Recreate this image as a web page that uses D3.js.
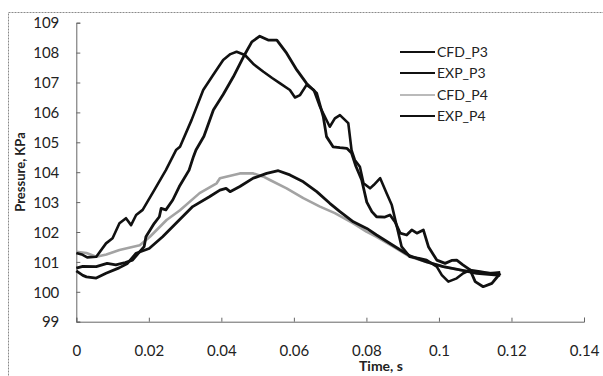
<!DOCTYPE html>
<html>
<head>
<meta charset="utf-8">
<script src="https://cdn.jsdelivr.net/npm/d3@7"></script>
<style>
  body { margin: 0; background: #fff; }
  svg { font-family: Lato, "Open Sans", sans-serif; }
</style>
</head>
<body>
<div id="chart"></div>
<script>
// time (s) and pressure (KPa)
const cfd_p3_t = [0, 0.0015, 0.003, 0.0055, 0.0082, 0.010, 0.0119, 0.0137, 0.0151, 0.0165, 0.0183, 0.0215, 0.0247, 0.0275, 0.0286, 0.0318, 0.035, 0.038, 0.0405, 0.0425, 0.0442, 0.0465, 0.049, 0.0516, 0.054, 0.0562, 0.0589, 0.0603, 0.0617, 0.0635, 0.0655, 0.0672, 0.0699, 0.0713, 0.0727, 0.075, 0.0759, 0.0768, 0.0782, 0.0792, 0.081, 0.082, 0.0838, 0.0856, 0.087, 0.0884, 0.0897, 0.092, 0.0945, 0.0966, 0.0994, 0.1008, 0.1026, 0.1049, 0.1067, 0.1086, 0.1113, 0.1141, 0.1169];
const cfd_p3_p = [101.3, 101.25, 101.15, 101.17, 101.62, 101.79, 102.29, 102.46, 102.23, 102.57, 102.74, 103.4, 104.07, 104.74, 104.85, 105.75, 106.75, 107.3, 107.75, 107.95, 108.03, 107.92, 107.6, 107.36, 107.15, 106.97, 106.75, 106.5, 106.58, 106.92, 106.75, 106.19, 105.52, 105.8, 105.91, 105.64, 104.74, 104.41, 104.18, 103.63, 103.46, 103.57, 103.8, 103.29, 102.9, 102.18, 101.51, 101.17, 101.12, 101.06, 100.84, 100.56, 100.34, 100.45, 100.62, 100.73, 100.68, 100.62, 100.65];

const exp_p3_t = [0, 0.0018, 0.0055, 0.0085, 0.0109, 0.0135, 0.0155, 0.0172, 0.0187, 0.0192, 0.0215, 0.0229, 0.0234, 0.0247, 0.0266, 0.0284, 0.0311, 0.0323, 0.033, 0.0352, 0.0378, 0.0405, 0.0433, 0.0461, 0.0484, 0.0506, 0.0529, 0.0553, 0.058, 0.0608, 0.0635, 0.0663, 0.0681, 0.069, 0.0708, 0.0727, 0.0746, 0.0759, 0.0771, 0.0787, 0.0801, 0.0815, 0.0828, 0.0851, 0.0865, 0.0879, 0.0893, 0.0911, 0.0925, 0.0939, 0.0957, 0.0971, 0.0994, 0.1017, 0.1035, 0.1049, 0.1066, 0.1086, 0.11, 0.1122, 0.1146, 0.1169];
const exp_p3_p = [100.79, 100.85, 100.84, 100.95, 100.9, 100.98, 101.06, 101.3, 101.51, 101.84, 102.29, 102.51, 102.79, 102.74, 103.07, 103.52, 104.07, 104.52, 104.74, 105.2, 106.08, 106.6, 107.19, 107.86, 108.36, 108.55, 108.42, 108.42, 107.98, 107.42, 106.97, 106.64, 105.86, 105.19, 104.85, 104.82, 104.8, 104.64, 104.2, 103.74, 103.0, 102.68, 102.51, 102.5, 102.57, 102.34, 101.96, 101.9, 102.07, 101.96, 102.07, 101.51, 101.06, 100.95, 101.05, 101.06, 100.9, 100.73, 100.34, 100.17, 100.28, 100.62];

const cfd_p4_t = [0, 0.0028, 0.0055, 0.0083, 0.0119, 0.0175, 0.0203, 0.0249, 0.0286, 0.034, 0.0387, 0.0396, 0.0451, 0.0488, 0.0516, 0.0534, 0.058, 0.0626, 0.0672, 0.0713, 0.0764, 0.08, 0.0828, 0.0874, 0.092, 0.0966, 0.1012, 0.1058, 0.1104, 0.1169];
const cfd_p4_p = [101.34, 101.3, 101.17, 101.25, 101.4, 101.56, 101.84, 102.4, 102.73, 103.3, 103.63, 103.8, 103.96, 103.96, 103.85, 103.74, 103.46, 103.13, 102.85, 102.63, 102.29, 102.01, 101.84, 101.51, 101.17, 101.0, 100.84, 100.73, 100.67, 100.6];

const exp_p4_t = [0, 0.0018, 0.0028, 0.0055, 0.0082, 0.0118, 0.0141, 0.0165, 0.0201, 0.0238, 0.0275, 0.0321, 0.0367, 0.0396, 0.0413, 0.0424, 0.0451, 0.0488, 0.0525, 0.0557, 0.0589, 0.0626, 0.0663, 0.0699, 0.0727, 0.0764, 0.0801, 0.0828, 0.0874, 0.092, 0.0966, 0.1012, 0.1058, 0.1104, 0.1169];
const exp_p4_p = [100.7, 100.55, 100.5, 100.46, 100.62, 100.8, 100.95, 101.29, 101.45, 101.84, 102.29, 102.85, 103.18, 103.4, 103.46, 103.35, 103.52, 103.8, 103.96, 104.05, 103.91, 103.68, 103.35, 102.96, 102.68, 102.34, 102.12, 101.9, 101.55, 101.2, 101.0, 100.84, 100.73, 100.62, 100.55];

const series_names = ["CFD_P3", "EXP_P3", "CFD_P4", "EXP_P4"];
const x_ticks = [0, 0.02, 0.04, 0.06, 0.08, 0.1, 0.12, 0.14];
const y_ticks = [99, 100, 101, 102, 103, 104, 105, 106, 107, 108, 109];

const width = 603, height = 376;

const series = [
  { name: series_names[0], t: cfd_p3_t, p: cfd_p3_p, color: "#111", w: 2.6 },
  { name: series_names[1], t: exp_p3_t, p: exp_p3_p, color: "#111", w: 2.8 },
  { name: series_names[2], t: cfd_p4_t, p: cfd_p4_p, color: "#a3a3a3", w: 2.6 },
  { name: series_names[3], t: exp_p4_t, p: exp_p4_p, color: "#111", w: 2.8 }
];

const x_scale = d3.scaleLinear().domain([0, 0.14]).range([76.3, 584]);
const y_scale = d3.scaleLinear().domain([99, 109]).range([321.7, 22.7]);

const svg = d3.select("#chart").append("svg").attr("width", width).attr("height", height);

// outer frame
svg.append("rect")
  .attr("x", 8.5).attr("y", 12.5)
  .attr("width", 620).attr("height", 400)
  .attr("fill", "none")
  .attr("stroke", "#8a8a8a")
  .attr("stroke-dasharray", "2,1");

const xAxis = g => g.attr("transform", `translate(0,${y_scale(99)})`)
  .call(d3.axisBottom(x_scale).tickValues(x_ticks).tickSize(-4).tickPadding(0)
    .tickFormat(d => d3.format("~g")(d)));

const yAxis = g => g.attr("transform", `translate(${x_scale(0)},0)`)
  .call(d3.axisLeft(y_scale).tickValues(y_ticks).tickSize(-4).tickPadding(0));

svg.append("g").call(xAxis)
  .call(g => g.selectAll(".domain").attr("stroke", "#666"))
  .call(g => g.selectAll(".tick line").attr("stroke", "#666"))
  .selectAll("text")
  .attr("y", 0).attr("dy", 0)
  .attr("transform", "translate(0,34)")
  .attr("font-size", "15px")
  .attr("font-family", "Lato, sans-serif")
  .attr("fill", "#222");

svg.append("g").call(yAxis)
  .call(g => g.selectAll(".domain").attr("stroke", "#666"))
  .call(g => g.selectAll(".tick line").attr("stroke", "#666"))
  .selectAll("text")
  .attr("x", -17)
  .attr("dy", "0.35em")
  .attr("font-size", "15px")
  .attr("font-family", "Lato, sans-serif")
  .attr("fill", "#222");

svg.append("text")
  .text("Time, s")
  .attr("x", 359).attr("y", 371)
  .style("font-size", "14px")
  .style("font-weight", "bold")
  .attr("fill", "#222");

svg.append("text")
  .text("Pressure, KPa")
  .attr("text-anchor", "middle")
  .attr("transform", "translate(25,172) rotate(-90)")
  .style("font-size", "13px")
  .style("font-weight", "bold")
  .attr("fill", "#222");

const line = d3.line()
  .x(d => x_scale(d[0]))
  .y(d => y_scale(d[1]));

// draw gray first so the black curves sit on top like in the picture
[2, 0, 1, 3].forEach(i => {
  const s = series[i];
  svg.append("path")
    .datum(s.t.map((t, k) => [t, s.p[k]]))
    .attr("fill", "none")
    .attr("stroke", s.color)
    .attr("stroke-width", s.w)
    .attr("stroke-linejoin", "round")
    .attr("d", line);
});

const legend = svg.append("g");
const legend_y = [52, 73, 95, 116];
series.forEach((s, i) => {
  legend.append("line")
    .attr("x1", 400).attr("x2", 435)
    .attr("y1", legend_y[i]).attr("y2", legend_y[i])
    .attr("stroke", s.color)
    .attr("stroke-width", i == 2 ? 1.5 : 2);
  legend.append("text")
    .attr("x", 437).attr("y", legend_y[i])
    .attr("dy", "0.35em")
    .text(s.name)
    .style("font-size", "14px")
    .attr("fill", "#222");
});
</script>
</body>
</html>
